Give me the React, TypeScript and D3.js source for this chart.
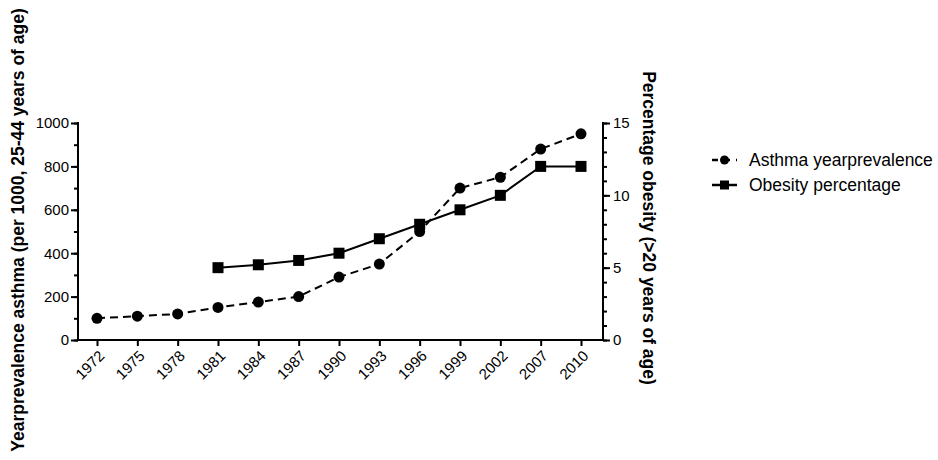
import React, { useEffect, useRef } from "react";
import * as d3 from "d3";

const years = ["1972", "1975", "1978", "1981", "1984", "1987", "1990", "1993", "1996", "1999", "2002", "2007", "2010"];
const asthma = [100, 110, 120, 150, 175, 200, 290, 350, 500, 700, 750, 880, 950];
const obesityYears = ["1981", "1984", "1987", "1990", "1993", "1996", "1999", "2002", "2007", "2010"];
const obesity = [5, 5.2, 5.5, 6, 7, 8, 9, 10, 12, 12];
const leftTicks = [0, 200, 400, 600, 800, 1000];
const rightTicks = [0, 5, 10, 15];

const App = () => {
  const svgRef = useRef<SVGSVGElement>(null);

  useEffect(() => {
    const svg = d3.select(svgRef.current);
    svg.selectAll("*").remove();

    const left = 78, right = 603, top = 123, bottom = 340;
    const font = "Liberation Sans, Arial, sans-serif";

    const x = d3.scalePoint().domain(years).range([97, 581]);
    const yL = d3.scaleLinear().domain([0, 1000]).range([bottom, top]);
    const yR = d3.scaleLinear().domain([0, 15]).range([bottom, top]);

    // left axis: minor then major ticks
    svg.append("g").attr("transform", `translate(${left},0)`)
      .call(d3.axisLeft(yL).tickValues(d3.range(0, 1001, 100)).tickSize(4).tickFormat(() => ""));
    svg.append("g").attr("transform", `translate(${left},0)`)
      .call(d3.axisLeft(yL).tickValues(leftTicks).tickSize(7).tickPadding(2).tickFormat(d3.format("d")));

    // right axis
    svg.append("g").attr("transform", `translate(${right},0)`)
      .call(d3.axisRight(yR).tickValues(d3.range(0, 16, 1)).tickSize(4).tickFormat(() => ""));
    svg.append("g").attr("transform", `translate(${right},0)`)
      .call(d3.axisRight(yR).tickValues(rightTicks).tickSize(7).tickPadding(3).tickFormat(d3.format("d")));

    // x axis
    const gx = svg.append("g").attr("transform", `translate(0,${bottom})`);
    gx.call(d3.axisBottom(x).tickSize(6).tickPadding(4));
    gx.selectAll("text")
      .attr("text-anchor", "end")
      .attr("dy", "0.35em")
      .attr("transform", "translate(-3,6) rotate(-45)");

    svg.selectAll("path.domain").remove();
    svg.selectAll(".tick line").attr("stroke", "#000").attr("stroke-width", 2);
    svg.selectAll(".tick text").attr("fill", "#000").attr("font-size", 15).attr("font-family", font);

    svg.append("line").attr("x1", left).attr("x2", left).attr("y1", top - 1).attr("y2", bottom + 1)
      .attr("stroke", "#000").attr("stroke-width", 2);
    svg.append("line").attr("x1", right).attr("x2", right).attr("y1", top - 1).attr("y2", bottom + 1)
      .attr("stroke", "#000").attr("stroke-width", 2);
    svg.append("line").attr("x1", left - 1).attr("x2", right + 1).attr("y1", bottom).attr("y2", bottom)
      .attr("stroke", "#000").attr("stroke-width", 2);

    // axis titles
    svg.append("text")
      .attr("transform", `translate(24,230) rotate(-90)`)
      .attr("text-anchor", "middle")
      .attr("font-family", font).attr("font-weight", "bold").attr("font-size", 17.5)
      .text("Yearprevalence asthma (per 1000, 25-44 years of age)");
    svg.append("text")
      .attr("transform", `translate(643,228) rotate(90)`)
      .attr("text-anchor", "middle")
      .attr("font-family", font).attr("font-weight", "bold").attr("font-size", 17.5)
      .text("Percentage obesity (>20 years of age)");

    // asthma line
    const lineA = d3.line<number>().x((_, i) => x(years[i])!).y(d => yL(d));
    svg.append("path").datum(asthma)
      .attr("fill", "none").attr("stroke", "#000").attr("stroke-width", 2)
      .attr("stroke-dasharray", "8,5").attr("d", lineA);
    svg.selectAll(".dotA").data(asthma).enter().append("circle")
      .attr("cx", (_, i) => x(years[i])!).attr("cy", d => yL(d)).attr("r", 5.5).attr("fill", "#000");

    // obesity line
    const lineO = d3.line<number>().x((_, i) => x(obesityYears[i])!).y(d => yR(d));
    svg.append("path").datum(obesity)
      .attr("fill", "none").attr("stroke", "#000").attr("stroke-width", 2).attr("d", lineO);
    svg.selectAll(".sqO").data(obesity).enter().append("rect")
      .attr("x", (_, i) => x(obesityYears[i])! - 5.5).attr("y", d => yR(d) - 5.5)
      .attr("width", 11).attr("height", 11).attr("fill", "#000");

    // legend
    const lg = svg.append("g").attr("transform", "translate(712,160)");
    lg.append("line").attr("x1", 0).attr("x2", 25).attr("y1", 0).attr("y2", 0)
      .attr("stroke", "#000").attr("stroke-width", 2.5).attr("stroke-dasharray", "6,3,4,3,2");
    lg.append("circle").attr("cx", 12.5).attr("cy", 0).attr("r", 4.5).attr("fill", "#000");
    lg.append("text").attr("x", 37).attr("y", 0).attr("dy", "0.35em")
      .attr("font-family", font).attr("font-size", 17.5).text("Asthma yearprevalence");
    lg.append("line").attr("x1", 0).attr("x2", 25).attr("y1", 25).attr("y2", 25)
      .attr("stroke", "#000").attr("stroke-width", 2.5);
    lg.append("rect").attr("x", 8).attr("y", 20.5).attr("width", 9).attr("height", 9).attr("fill", "#000");
    lg.append("text").attr("x", 37).attr("y", 25).attr("dy", "0.35em")
      .attr("font-family", font).attr("font-size", 17.5).text("Obesity percentage");
  }, []);

  return (
    <svg ref={svgRef} width={938} height={460}
      style={{ position: "absolute", left: 0, top: 0, background: "#fff" }} />
  );
};

export default App;
